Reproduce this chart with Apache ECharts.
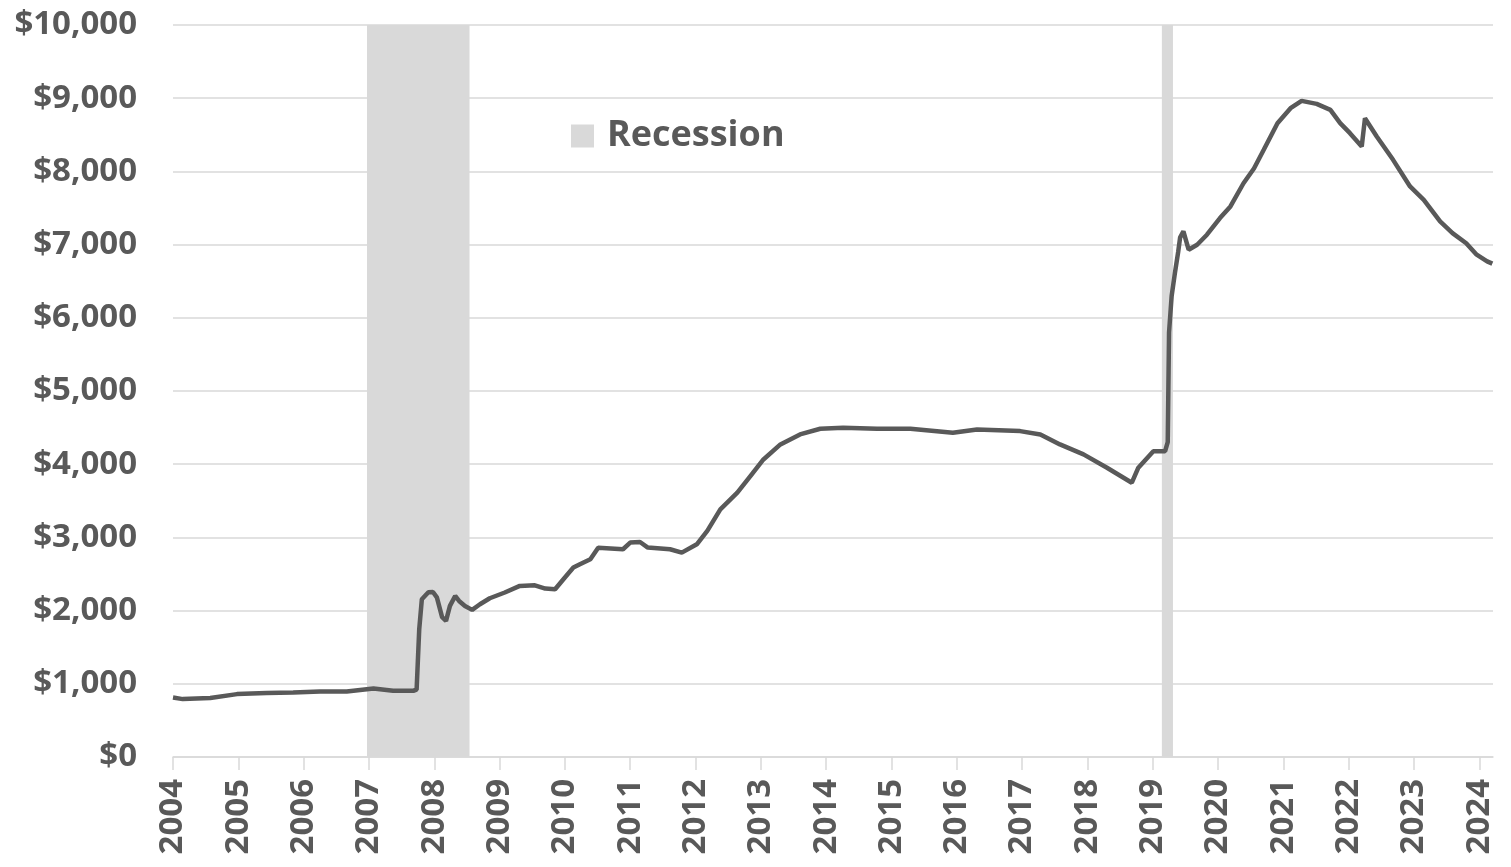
<!DOCTYPE html>
<html>
<head>
<meta charset="utf-8">
<script src="https://cdn.jsdelivr.net/npm/echarts@6/dist/echarts.min.js"></script>
<style>
  html, body { margin: 0; padding: 0; background: #fff; }
  #chart { width: 1511px; height: 867px; }
</style>
</head>
<body>
<div id="chart"></div>
<script>
// year positions (decimal, on the chart's own year scale) and balance in $ billions
var years = [
  2004.00, 2004.15, 2004.57, 2004.98, 2005.43, 2005.84, 2006.25, 2006.66, 2007.07, 2007.37,
  2007.68, 2007.73, 2007.77, 2007.81, 2007.91, 2007.98, 2008.04, 2008.12, 2008.18, 2008.24,
  2008.32, 2008.38, 2008.47, 2008.58, 2008.70, 2008.85, 2009.08, 2009.31, 2009.54, 2009.70,
  2009.85, 2010.00, 2010.13, 2010.23, 2010.39, 2010.51, 2010.89, 2011.00, 2011.15, 2011.27,
  2011.61, 2011.79, 2012.02, 2012.18, 2012.38, 2012.64, 2012.84, 2013.04, 2013.30, 2013.60,
  2013.91, 2014.26, 2014.78, 2015.29, 2015.94, 2016.31, 2016.97, 2017.28, 2017.58, 2017.94,
  2018.30, 2018.68, 2018.78, 2019.01, 2019.19, 2019.23, 2019.25, 2019.29, 2019.34, 2019.39,
  2019.42, 2019.47, 2019.55, 2019.68, 2019.83, 2020.03, 2020.19, 2020.39, 2020.55, 2020.70,
  2020.91, 2021.11, 2021.28, 2021.51, 2021.72, 2021.87, 2022.02, 2022.20, 2022.25, 2022.43,
  2022.68, 2022.94, 2023.15, 2023.40, 2023.59, 2023.80, 2023.96, 2024.12, 2024.20
];
var balance = [
  814, 791, 805, 859, 873, 882, 896, 896, 937, 905,
  905, 920, 1746, 2155, 2250, 2255, 2180, 1910, 1860, 2064,
  2200, 2132, 2064, 2010, 2087, 2169, 2247, 2337, 2346, 2301,
  2292, 2452, 2588, 2633, 2701, 2860, 2838, 2929, 2937, 2861,
  2838, 2792, 2906, 3088, 3383, 3611, 3838, 4065, 4270, 4407,
  4484, 4498, 4484, 4484, 4430, 4475, 4452, 4407, 4270, 4134,
  3952, 3747, 3952, 4177, 4177, 4300, 5800, 6300, 6612, 6900,
  7100, 7180, 6930, 6998, 7135, 7362, 7521, 7838, 8040, 8295,
  8659, 8863, 8963, 8922, 8840, 8659, 8522, 8340, 8727, 8477,
  8158, 7794, 7612, 7316, 7157, 7019, 6862, 6771, 6740
];
var yearTicks = [2004, 2005, 2006, 2007, 2008, 2009, 2010, 2011, 2012, 2013, 2014,
  2015, 2016, 2017, 2018, 2019, 2020, 2021, 2022, 2023, 2024];
var recessionStart = [2006.97, 2019.14];
var recessionEnd = [2008.54, 2019.31];

var lineData = years.map(function (y, i) { return [y, balance[i]] })
var areas = recessionStart.map(function (s, i) {
  return [{ xAxis: s }, { xAxis: recessionEnd[i] }]
})

var textColor = '#595959'
var font = 'Open Sans'

var chart = echarts.init(document.getElementById('chart'))
var option = {
  animation: false,
  grid: { left: 173, right: 18, top: 25, bottom: 110 },
  legend: {
    data: [{ name: 'Recession', icon: 'rect' }],
    left: 566,
    top: 113,
    itemWidth: 23,
    itemHeight: 23,
    textStyle: {
      color: textColor,
      fontFamily: font,
      fontWeight: 'bold',
      fontSize: 36,
      lineHeight: 36,
      padding: [0, 0, 0, 8]
    }
  },
  xAxis: {
    type: 'value',
    min: 2004,
    max: 2024.21,
    interval: 1,
    splitLine: { show: false },
    axisLine: { lineStyle: { color: '#d9d9d9', width: 1.5 } },
    axisTick: {
      length: 13,
      customValues: yearTicks,
      lineStyle: { color: '#d9d9d9', width: 1.5 }
    },
    axisLabel: {
      customValues: yearTicks,
      rotate: 90,
      margin: 22,
      color: textColor,
      fontFamily: font,
      fontWeight: 'bold',
      fontSize: 33,
      formatter: function (v) { return String(v) }
    }
  },
  yAxis: {
    type: 'value',
    min: 0,
    max: 10000,
    interval: 1000,
    axisLine: { show: false },
    axisTick: { show: false },
    splitLine: { lineStyle: { color: '#d9d9d9', width: 1.5 } },
    axisLabel: {
      margin: 36,
      color: textColor,
      fontFamily: font,
      fontWeight: 'bold',
      fontSize: 33,
      formatter: function (v) { return '$' + v.toLocaleString('en-US') }
    }
  },
  series: [
    {
      name: 'Recession',
      type: 'bar',
      data: [],
      itemStyle: { color: '#d9d9d9' },
      markArea: {
        silent: true,
        itemStyle: { color: '#d9d9d9' },
        data: areas
      }
    },
    {
      name: 'Balance',
      type: 'line',
      data: lineData,
      showSymbol: false,
      z: 5,
      lineStyle: { color: '#595959', width: 4.5 }
    }
  ]
}
chart.setOption(option)
</script>
</body>
</html>
